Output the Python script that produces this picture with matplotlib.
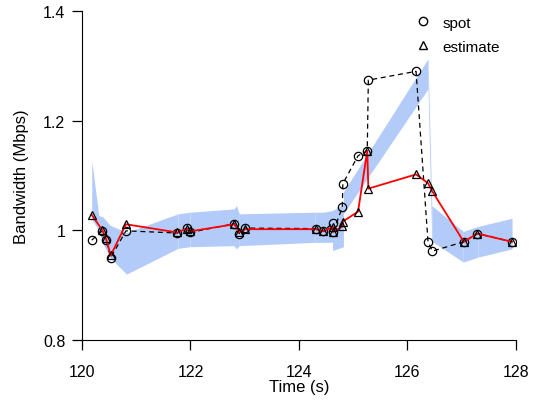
import matplotlib
matplotlib.use('Agg')
from matplotlib import pyplot as plt

plt.rcParams['font.family'] = ['Liberation Sans', 'DejaVu Sans']

# sample times (s) and the two bandwidth series (Mbps)
time = [120.18, 120.37, 120.44, 120.53, 120.81, 121.76, 121.93, 121.99,
        122.81, 122.90, 123.01, 124.31, 124.45, 124.62, 124.63, 124.80,
        124.81, 125.09, 125.26, 125.28, 126.16, 126.38, 126.46, 127.04,
        127.29, 127.93]
spot = [0.982, 0.999, 0.983, 0.950, 0.999, 0.995, 1.004, 0.996,
        1.012, 0.994, 1.004, 1.003, 0.998, 1.013, 0.996, 1.042,
        1.085, 1.136, 1.145, 1.274, 1.290, 0.979, 0.962, 0.979,
        0.994, 0.979]
estimate = [1.028, 1.001, 0.986, 0.954, 1.011, 0.996, 1.003, 0.998,
            1.011, 0.996, 1.002, 1.002, 0.998, 1.006, 0.997, 1.007,
            1.016, 1.034, 1.145, 1.076, 1.102, 1.086, 1.071, 0.979,
            0.994, 0.979]

# confidence band, one piece per segment
band_t = [
    [120.18, 120.31, 120.39, 120.52, 120.82],
    [120.82, 121.77],
    [121.77, 121.99],
    [121.99, 122.80, 122.85, 122.90],
    [122.90, 124.30],
    [124.30, 124.45, 124.62],
    [124.62, 124.82],
    [124.82, 126.38],
    [126.38, 126.45],
    [126.45, 127.03],
    [127.03, 127.30],
    [127.30, 127.93],
]
band_lo = [
    [1.020, 1.000, 0.975, 0.950, 0.920],
    [0.920, 0.967],
    [0.967, 0.970],
    [0.970, 0.972, 0.966, 0.972],
    [0.972, 0.978],
    [0.978, 0.978, 0.978],
    [0.963, 0.970],
    [1.030, 1.258],
    [1.258, 0.980],
    [0.980, 0.942],
    [0.942, 0.951],
    [0.951, 0.966],
]
band_hi = [
    [1.127, 1.027, 1.024, 1.009, 0.996],
    [0.996, 1.030],
    [1.030, 1.033],
    [1.033, 1.039, 1.045, 1.030],
    [1.030, 1.033],
    [1.033, 1.033, 1.036],
    [1.036, 1.048],
    [1.070, 1.313],
    [1.313, 1.045],
    [1.045, 0.998],
    [0.998, 1.007],
    [1.007, 1.022],
]

fig = plt.figure(figsize=(5.43, 4.02), dpi=100)
ax = fig.add_axes([0.151, 0.152, 0.799, 0.818])

for t, lo, hi in zip(band_t, band_lo, band_hi):
    ax.fill_between(t, lo, hi, color='#b3cbf9', linewidth=0)

ax.plot(time, spot, color='black', linestyle=(0, (4, 3)), linewidth=0.9,
        marker='o', markersize=6, markerfacecolor='none',
        markeredgecolor='black', markeredgewidth=0.9)
ax.plot(time, estimate, color='red', linewidth=1.3)
ax.plot(time, estimate, linestyle='none', marker='^', markersize=5.5,
        markerfacecolor='none', markeredgecolor='black', markeredgewidth=0.9)

# legend: markers only, no frame
ax.plot([], [], linestyle='none', marker='o', markersize=6,
        markerfacecolor='none', markeredgecolor='black', label='spot')
ax.plot([], [], linestyle='none', marker='^', markersize=5.5,
        markerfacecolor='none', markeredgecolor='black', label='estimate')
h, l = ax.get_legend_handles_labels()
ax.legend(h[-2:], l[-2:], loc='upper right', bbox_to_anchor=(0.995, 1.028),
          frameon=False, fontsize=11, handletextpad=0.3, labelspacing=0.65)

ax.set_xlim(120, 128)
ax.set_ylim(0.8, 1.4)
ax.set_xticks([120, 122, 124, 126, 128])
ax.set_yticks([0.8, 1.0, 1.2, 1.4])
ax.set_yticklabels(['0.8', '1', '1.2', '1.4'])
ax.spines['top'].set_visible(False)
ax.spines['right'].set_visible(False)
ax.tick_params(direction='out', length=7, width=0.9, labelsize=11.5, pad=5)
ax.tick_params(axis='x', pad=10)
ax.set_xlabel('Time (s)', fontsize=12, labelpad=0)
ax.set_ylabel('Bandwidth (Mbps)', fontsize=12, labelpad=10)

fig.savefig('out.png', dpi=100)
